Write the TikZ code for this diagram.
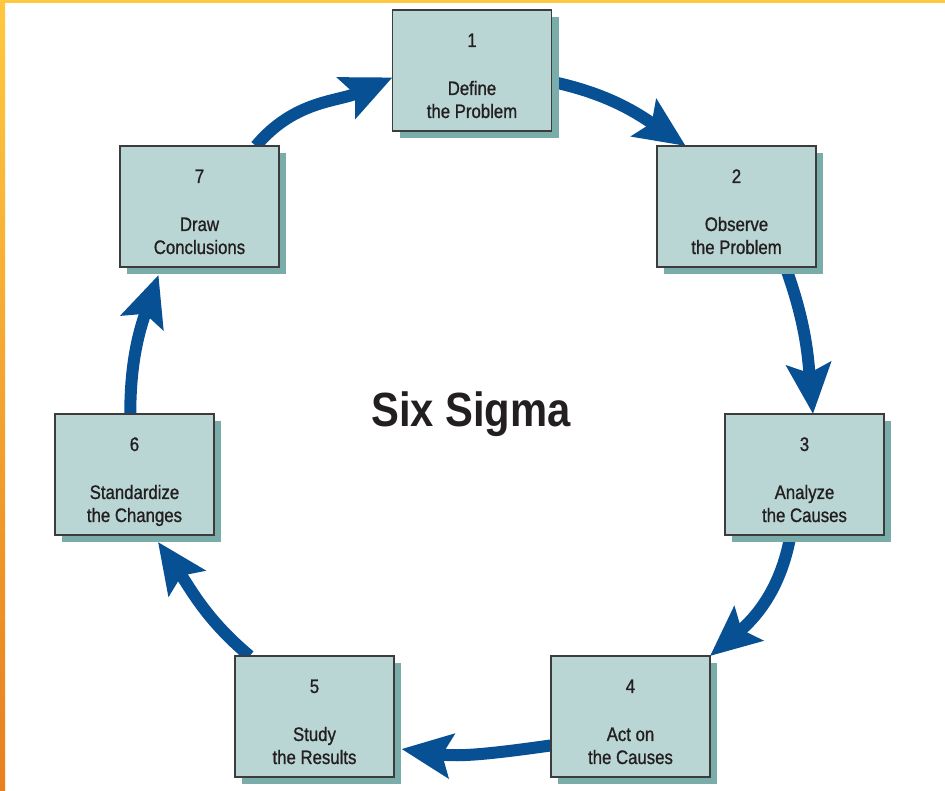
\documentclass[tikz,border=0pt]{standalone}
\usepackage{fontspec}
\setmainfont{Liberation Sans}[FakeStretch=0.87]
\newfontfamily\boxfont{Liberation Sans}[FakeStretch=0.86, FakeBold=1]
\usetikzlibrary{arrows.meta,shadows,calc}
\definecolor{arrowblue}{RGB}{8,80,148}
\definecolor{boxfill}{RGB}{185,213,212}
\definecolor{boxshadow}{RGB}{122,173,170}
\definecolor{boxline}{RGB}{60,60,60}
\definecolor{txtc}{RGB}{35,31,32}
\definecolor{frameyellow}{RGB}{255,200,64}
\definecolor{frameorange}{RGB}{232,128,30}
\pgfdeclarelayer{bg}
\pgfsetlayers{bg,main}
\newcommand{\boxtext}[2]{\parbox[c][121pt][t]{159pt}{\centering\boxfont\fontsize{19.5pt}{23pt}\selectfont\rule{0pt}{37pt}#1\\[25pt]#2}}
\tikzset{
  stepbox/.style={draw=boxline, line width=1.4pt, fill=boxfill, inner sep=0pt, outer sep=0pt,
    minimum width=159pt, minimum height=121pt, text=txtc,
    drop shadow={shadow xshift=7pt, shadow yshift=-7pt, fill=boxshadow, opacity=1}},
  flow/.style={draw=arrowblue, line width=12pt, -{Stealth[length=50pt,width=44pt,inset=9pt]}},
  titletext/.style={font=\bfseries\fontsize{48pt}{50pt}\selectfont, text=txtc, anchor=base, inner sep=0pt}
}
\begin{document}
\begin{tikzpicture}[x=1pt,y=1pt]
\useasboundingbox (0,0) rectangle (945,791);
\node[stepbox] (b1) at (472,720.5) {\boxtext{1}{Define\\the Problem}};
\node[stepbox] (b2) at (736.5,584.5) {\boxtext{2}{Observe\\the Problem}};
\node[stepbox] (b3) at (804.5,316.5) {\boxtext{3}{Analyze\\the Causes}};
\node[stepbox] (b4) at (630.5,74.5) {\boxtext{4}{Act on\\the Causes}};
\node[stepbox] (b5) at (314.5,74.5) {\boxtext{5}{Study\\the Results}};
\node[stepbox] (b6) at (134.5,316.5) {\boxtext{6}{Standardize\\the Changes}};
\node[stepbox] (b7) at (199.5,584.5) {\boxtext{7}{Draw\\Conclusions}};
\node[titletext] (title) at (471,364) {Six Sigma};
\begin{pgfonlayer}{bg}
\fill[white] (0,0) rectangle (945,791);
\shade[top color=frameyellow,bottom color=frameorange] (0,0) rectangle (5,791);
\fill[frameyellow] (0,788) rectangle (945,791);
\draw[flow] (b1.-8) to[out=-12,in=146] (b2.130);
\draw[flow] (b2.-51) to[out=-70,in=95] (b3.82);
\draw[flow] (b3.-103) to[out=-100,in=40] (b4.north east);
\draw[flow] (b4.200) to[out=188,in=-8] ($(b5.center)+(87,-32.5)$);
\draw[flow] (b5.137) to[out=140,in=-55] ($(b6.center)+(23.5,-67.5)$);
\draw[flow] (b6.94) to[out=90,in=-109] ($(b7.center)+(-41,-68.5)$);
\draw[flow] (b7.47) to[out=50,in=-156] (b1.185);
\end{pgfonlayer}
\end{tikzpicture}
\end{document}
